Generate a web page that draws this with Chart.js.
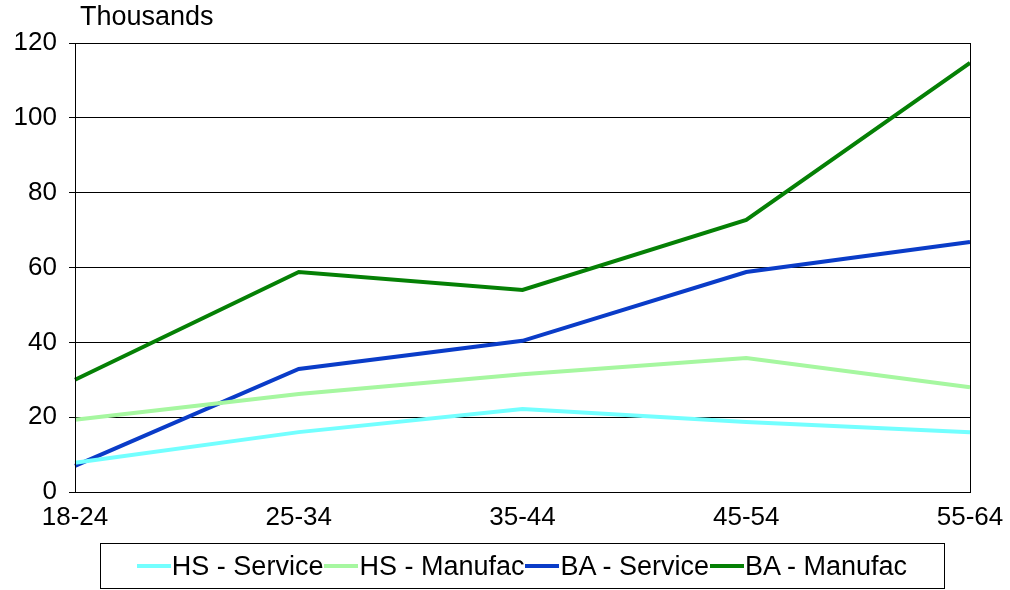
<!DOCTYPE html>
<html>
<head>
<script src="https://cdn.jsdelivr.net/npm/chart.js@4"></script>
<style>
body { margin: 0; background: #fff; font-family: "Liberation Sans", Arial, sans-serif; }
#wrap { position: relative; width: 1010px; height: 590px; }
#title { position: absolute; left: 80px; top: 1px; font-size: 27px; }
#legend { position: absolute; left: 100px; top: 543px; width: 845px; height: 46px; border: 1px solid #000;
  display: flex; align-items: center; justify-content: center; font-size: 27px; box-sizing: border-box; }
.item { display: flex; align-items: center; margin-right: 1px; }
.swatch { width: 34px; height: 4px; margin-right: 1px; }
</style>
</head>
<body>
<div id="wrap">
  <canvas id="c" width="1010" height="590"></canvas>
  <div id="title">Thousands</div>
  <div id="legend"></div>
</div>
<script>
// data
const categories = ['18-24', '25-34', '35-44', '45-54', '55-64'];
const hsService = [7.8, 16, 22.2, 18.7, 16];
const hsManufac = [19.3, 26.2, 31.5, 35.8, 28];
const baService = [7, 32.9, 40.4, 58.8, 66.8];
const baManufac = [30, 58.8, 54, 72.7, 114.7];
const yTicks = [0, 20, 40, 60, 80, 100, 120];

const series = [
  { label: 'HS - Service', data: hsService, color: '#73ffff' },
  { label: 'HS - Manufac', data: hsManufac, color: '#a6f7a0' },
  { label: 'BA - Service', data: baService, color: '#0a3cc8' },
  { label: 'BA - Manufac', data: baManufac, color: '#058005' }
];

const legend = document.getElementById('legend');
series.forEach(s => {
  const it = document.createElement('div');
  it.className = 'item';
  it.innerHTML = '<span class="swatch" style="background:' + s.color + '"></span>' + s.label;
  legend.appendChild(it);
});

const plotBorder = {
  id: 'plotBorder',
  afterDraw(chart) {
    const a = chart.chartArea, ctx = chart.ctx;
    ctx.save();
    ctx.strokeStyle = '#000';
    ctx.lineWidth = 1;
    ctx.strokeRect(a.left + 0.5, a.top + 0.5, a.right - a.left, a.bottom - a.top);
    ctx.restore();
  }
};

new Chart(document.getElementById('c'), {
  type: 'line',
  data: {
    labels: categories,
    datasets: series.map(s => ({
      label: s.label, data: s.data, borderColor: s.color, borderWidth: 4,
      pointRadius: 0, tension: 0, fill: false
    }))
  },
  options: {
    responsive: false,
    animation: false,
    layout: { padding: { top: 43, right: 40, left: 0, bottom: 0 } },
    plugins: { legend: { display: false }, tooltip: { enabled: false } },
    scales: {
      x: {
        offset: false,
        grid: { display: false },
        border: { color: '#000' },
        ticks: { color: '#000', font: { size: 26, family: 'Liberation Sans' }, maxRotation: 0, padding: 2 },
        afterFit(s) { s.height = 98; }
      },
      y: {
        min: 0, max: 120,
        afterBuildTicks(s) { s.ticks = yTicks.map(v => ({ value: v })); },
        grid: { color: '#000', drawTicks: true, tickLength: 6 },
        border: { color: '#000' },
        ticks: { color: '#000', font: { size: 26, family: 'Liberation Sans' }, padding: 12 },
        afterFit(s) { s.width = 75; }
      }
    }
  },
  plugins: [plotBorder]
});
</script>
</body>
</html>
